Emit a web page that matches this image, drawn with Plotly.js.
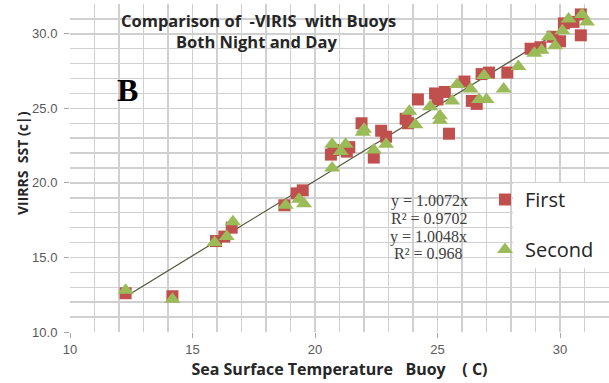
<!DOCTYPE html>
<html>
<head>
<meta charset="utf-8">
<script src="https://cdn.plot.ly/plotly-3.0.1.min.js"></script>
<style>html,body{margin:0;padding:0;background:#fff;}#chart{width:609px;height:383px;}</style>
</head>
<body>
<div id="chart"></div>
<script>
// Series "First" (red squares)
const firstX = [12.27,14.18,15.96,16.3,16.6,18.75,19.25,19.5,20.65,20.75,21.4,21.3,21.9,22.4,22.7,22.9,23.7,23.8,24.2,24.9,25.3,25.0,25.47,26.1,26.4,26.6,26.8,27.1,27.85,28.8,29.2,29.7,30.0,30.16,30.55,30.85,30.85];
const firstY = [12.6,12.4,16.1,16.4,17.0,18.5,19.3,19.5,21.9,22.2,22.4,22.1,24.0,21.7,23.5,23.1,24.3,24.0,25.6,26.0,26.1,25.6,23.3,26.8,25.5,25.3,27.3,27.4,27.4,29.0,29.1,29.8,29.5,30.7,30.8,29.9,31.3];
// Series "Second" (green triangles)
const secondX = [12.27,14.18,15.9,16.4,16.65,18.8,19.35,19.55,20.7,20.7,21.05,21.25,21.95,22.0,22.4,22.9,23.85,24.1,24.7,25.1,25.1,25.6,25.8,26.35,26.7,26.9,27.0,27.7,28.3,28.95,29.25,29.55,29.8,30.1,30.35,30.9,31.1];
const secondY = [12.8,12.2,16.0,16.4,17.4,18.5,18.9,18.6,21.0,22.6,22.1,22.6,23.4,23.6,22.2,22.6,24.8,23.9,25.1,24.5,24.2,25.5,26.6,26.3,25.6,27.2,25.6,26.3,27.8,28.7,28.9,29.8,29.2,30.2,31.0,31.3,30.8];
// Trend line end points
const trendX = [12.3, 31.0];
const trendY = [12.4, 31.2];
// Axis ticks
const xTicks = [10, 15, 20, 25, 30];
const yTicks = [10, 15, 20, 25, 30];
const yTickLabels = ["10.0", "15.0", "20.0", "25.0", "30.0"];
const seriesNames = ["First", "Second"];
const titleLines = ["Comparison of  -VIRIS  with Buoys", "Both Night and Day"];
const equations = ["y = 1.0072x", "R² = 0.9702", "y = 1.0048x", "R² = 0.968"];

const W = 609, H = 383, L = 70, R = 0, T = 4, B = 51;
const pw = W - L - R, ph = H - T - B;
const px = v => (v - L) / pw;
const py = v => (H - B - v) / ph;

const traces = [
  {x: trendX, y: trendY, mode: 'lines', line: {color: '#4f5638', width: 1.2}, showlegend: false, hoverinfo: 'skip'},
  {x: firstX, y: firstY, name: seriesNames[0], mode: 'markers', legendgroup: 'a',
   marker: {symbol: 'square', size: 12, color: '#c0504d'}},
  {x: secondX, y: secondY, name: seriesNames[1], mode: 'markers', legendgroup: 'b',
   marker: {symbol: 'triangle-up', size: 14, color: '#9bbb59'}}
];

const titleFont = {family: 'Open Sans, Liberation Sans, sans-serif', size: 16.5, color: '#262626'};
const eqY = [201, 218, 237, 253];
const eqX = [429, 429, 428, 428];
const annotations = [
  {text: '<b>' + titleLines[0] + '</b>', xref: 'paper', yref: 'paper', x: px(258), y: py(20),
   xanchor: 'center', yanchor: 'middle', showarrow: false, font: titleFont},
  {text: '<b>' + titleLines[1] + '</b>', xref: 'paper', yref: 'paper', x: px(256), y: py(41),
   xanchor: 'center', yanchor: 'middle', showarrow: false, font: titleFont},
  {text: '<b>B</b>', xref: 'paper', yref: 'paper', x: px(127), y: py(90), xanchor: 'center', yanchor: 'middle',
   showarrow: false, font: {family: 'Liberation Serif, DejaVu Serif, serif', size: 32, color: '#000'}},
  {text: '<b>VIIRRS  SST (c|)</b>', xref: 'paper', yref: 'paper', x: px(22), y: py(163), textangle: -90,
   xanchor: 'center', yanchor: 'middle', showarrow: false,
   font: {family: 'Open Sans, Liberation Sans, sans-serif', size: 14, color: '#262626'}}
];
equations.forEach((t, i) => annotations.push({
  text: t, xref: 'paper', yref: 'paper', x: px(eqX[i]), y: py(eqY[i]), xanchor: 'center', yanchor: 'middle',
  showarrow: false, font: {family: 'Liberation Serif, serif', size: 16, color: '#404040'}
}));

const gridC = '#d0d0d0';
const layout = {
  width: W, height: H,
  margin: {l: L, r: R, t: T, b: B, pad: 0},
  paper_bgcolor: '#fff', plot_bgcolor: '#fff',
  showlegend: true,
  legend: {x: px(485), y: py(180), xanchor: 'left', yanchor: 'top', bgcolor: 'rgba(0,0,0,0)',
           traceorder: 'grouped', tracegroupgap: 21,
           font: {family: 'Open Sans, Liberation Sans, sans-serif', size: 20, color: '#262626'}},
  xaxis: {range: [10, 32], tickvals: xTicks, ticks: 'outside', ticklen: 5, tickcolor: '#a6a6a6',
          showgrid: true, gridcolor: gridC, gridwidth: 1.5, zeroline: false, showline: false,
          minor: {dtick: 1, tick0: 10, showgrid: true, gridcolor: gridC, gridwidth: 1.5},
          tickfont: {family: 'Liberation Sans, sans-serif', size: 13, color: '#595959'},
          title: {text: '<b>Sea Surface Temperature   Buoy    ( C)</b>', standoff: 8,
                  font: {family: 'Open Sans, Liberation Sans, sans-serif', size: 16, color: '#262626'}},
          fixedrange: true},
  yaxis: {range: [10, 32], tickvals: yTicks, ticktext: yTickLabels, ticks: 'outside', ticklen: 5, tickcolor: '#a6a6a6',
          showgrid: true, gridcolor: gridC, gridwidth: 1.5, zeroline: false, showline: false,
          minor: {dtick: 1, tick0: 10, showgrid: true, gridcolor: gridC, gridwidth: 1.5},
          tickfont: {family: 'Liberation Sans, sans-serif', size: 13, color: '#595959'},
          ticklabelstandoff: 4, fixedrange: true},
  shapes: [
    {type: 'rect', xref: 'paper', yref: 'paper', x0: px(513), x1: px(609), y0: py(268), y1: py(183),
     fillcolor: '#fff', line: {width: 0}, layer: 'above'}
  ],
  annotations: annotations
};

Plotly.newPlot('chart', traces, layout, {displayModeBar: false, staticPlot: true});
</script>
</body>
</html>
